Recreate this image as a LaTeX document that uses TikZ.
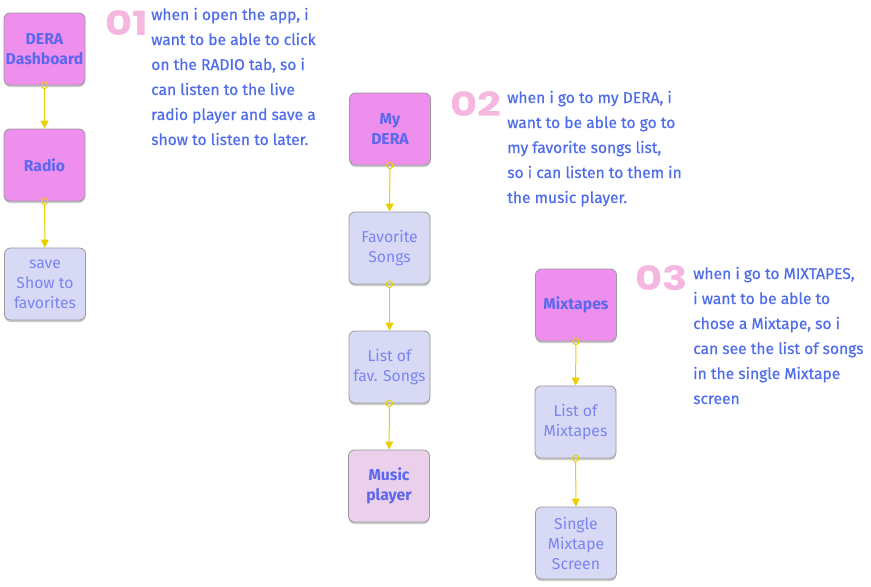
\documentclass[tikz,border=0pt]{standalone}
\usepackage{fontspec}
\setmainfont{Fira Sans}
\newfontfamily\numfont{Poppins}
\usetikzlibrary{arrows.meta,shadows}
\definecolor{boxpink}{HTML}{EE8FEE}
\definecolor{boxlilac}{HTML}{D8D9F5}
\definecolor{boxrose}{HTML}{EAD0EA}
\definecolor{boxedge}{HTML}{999999}
\definecolor{boldblue}{HTML}{5B67EE}
\definecolor{lightblue}{HTML}{7B84F2}
\definecolor{storyblue}{HTML}{4F6DEB}
\definecolor{flowyellow}{HTML}{E8D000}
\definecolor{numpink}{HTML}{F5B6DF}
\begin{document}
\begin{tikzpicture}[x=0.75pt,y=-0.75pt,
    screen/.style={draw=boxedge,rounded corners=4.5pt,minimum width=60.75pt,minimum height=54pt,align=center,inner sep=1pt,line width=.6pt,drop shadow={shadow xshift=0pt,shadow yshift=-1.5pt,opacity=.35,fill=black!60},font=\fontsize{11.8}{15}\selectfont},
    main/.style={screen,fill=boxpink,text=boldblue,font=\fontsize{11.8}{15}\selectfont\bfseries},
    sub/.style={screen,fill=boxlilac,text=lightblue},
    flow/.style={draw=flowyellow,line width=.75pt,{Circle[open,length=5.5pt,width=5.5pt]}-{Triangle[length=6pt,width=6pt]},shorten <=-2.75pt},
    story/.style={anchor=base west,align=left,text=storyblue,inner sep=0pt,font=\fontsize{11.7}{18.75}\selectfont\addfontfeature{FakeBold=0.6}},
    num/.style={anchor=base west,text=numpink,inner sep=0pt,xscale=1.25,font=\numfont\bfseries\fontsize{25}{25}\selectfont}]
    \useasboundingbox (0,0) rectangle (871,586);

    \node[main] (dash) at (44.5,49) {DERA\\Dashboard};
    \node[main] (radio) at (44.5,165) {Radio};
    \node[sub] (save) at (45,284) {save\\Show to\\favorites};
    \draw[flow] (dash) -- (radio);
    \draw[flow] (radio) -- (save);
    \node[num] (one) at (105,35) {01};
    \node[story] (storyone) at (151,145) {when i open the app, i\\want to be able to click\\on the RADIO tab, so i\\can listen to the live\\radio player and save a\\show to listen to later.};

    \node[main] (mydera) at (390,129) {My\\DERA};
    \node[sub] (favsongs) at (389.5,248) {Favorite\\Songs};
    \node[sub] (favlist) at (389.5,367) {List of\\fav. Songs};
    \node[main,fill=boxrose] (player) at (389,486) {Music\\player};
    \draw[flow] (mydera) -- (favsongs);
    \draw[flow] (favsongs) -- (favlist);
    \draw[flow] (favlist) -- (player);
    \node[num] (two) at (450,116) {02};
    \node[story] (storytwo) at (507,203) {when i go to my DERA, i\\want to be able to go to\\my favorite songs list,\\so i can listen to them in\\the music player.};

    \node[main] (mixtapes) at (576,305) {Mixtapes};
    \node[sub] (mixlist) at (575.5,422) {List of\\Mixtapes};
    \node[sub] (single) at (576,543) {Single\\Mixtape\\Screen};
    \draw[flow] (mixtapes) -- (mixlist);
    \draw[flow] (mixlist) -- (single);
    \node[num] (three) at (635,290) {03};
    \node[story] (storythree) at (693,404) {when i go to MIXTAPES,\\i want to be able to\\chose a Mixtape, so i\\can see the list of songs\\in the single Mixtape\\screen};
\end{tikzpicture}
\end{document}
